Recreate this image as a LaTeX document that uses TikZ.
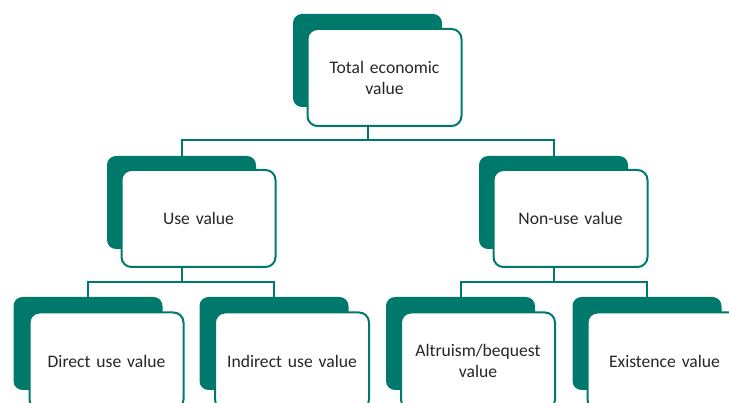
\documentclass[tikz,border=0pt]{standalone}
\usepackage{fontspec}
\setmainfont{Carlito}
\begin{document}
\definecolor{teal}{RGB}{0,121,109}
\definecolor{ink}{RGB}{38,38,38}
\begin{tikzpicture}[x=1pt,y=-1pt,
  back/.style={fill=teal,draw=none,rounded corners=9pt,minimum width=149pt,minimum height=93pt,inner sep=0pt},
  front/.style={fill=white,draw=teal,line width=2pt,rounded corners=10pt,minimum width=153pt,minimum height=97pt,
    inner sep=4pt,align=center,text width=146pt,font=\fontsize{17.6}{21}\selectfont,text=ink},
  link/.style={draw=teal,line width=2pt}]
\useasboundingbox (0,0) rectangle (729,403);

% each value is a teal card behind a white card shifted down and right
\node[back] (teB) at (367.5,60.5) {};
\node[front] (te) at (384.5,77.5) {Total economic\\value};

\node[back] (useB) at (181.5,202.5) {};
\node[front] (use) at (198.5,218.5) {Use value};

\node[back] (nonB) at (553.5,202.5) {};
\node[front] (non) at (570.5,218.5) {Non-use value};

\node[back] (dirB) at (88,343.5) {};
\node[front] (dir) at (106.5,361) {Direct use value};

\node[back] (indB) at (274,343.5) {};
\node[front] (ind) at (292,361) {Indirect use value};

\node[back] (altB) at (460.5,343.5) {};
\node[front] (alt) at (478,361) {Altruism/bequest\\value};

\node[back] (exiB) at (647,343.5) {};
\node[front] (exi) at (664.5,361) {Existence value};

% tree connectors
\coordinate (busA) at (0,140);
\coordinate (busL) at (0,282);
\coordinate (busR) at (0,282);

\draw[link] (teB.center |- te.south) -- (teB.center |- busA);
\draw[link] (useB.north) -- (useB.center |- busA) -- (nonB.center |- busA) -- (nonB.north);

\draw[link] (useB.center |- use.south) -- (useB.center |- busL);
\draw[link] (dirB.north) -- (dirB.center |- busL) -- (indB.center |- busL) -- (indB.north);

\draw[link] (nonB.center |- non.south) -- (nonB.center |- busR);
\draw[link] (altB.north) -- (altB.center |- busR) -- (exiB.center |- busR) -- (exiB.north);
\end{tikzpicture}
\end{document}
